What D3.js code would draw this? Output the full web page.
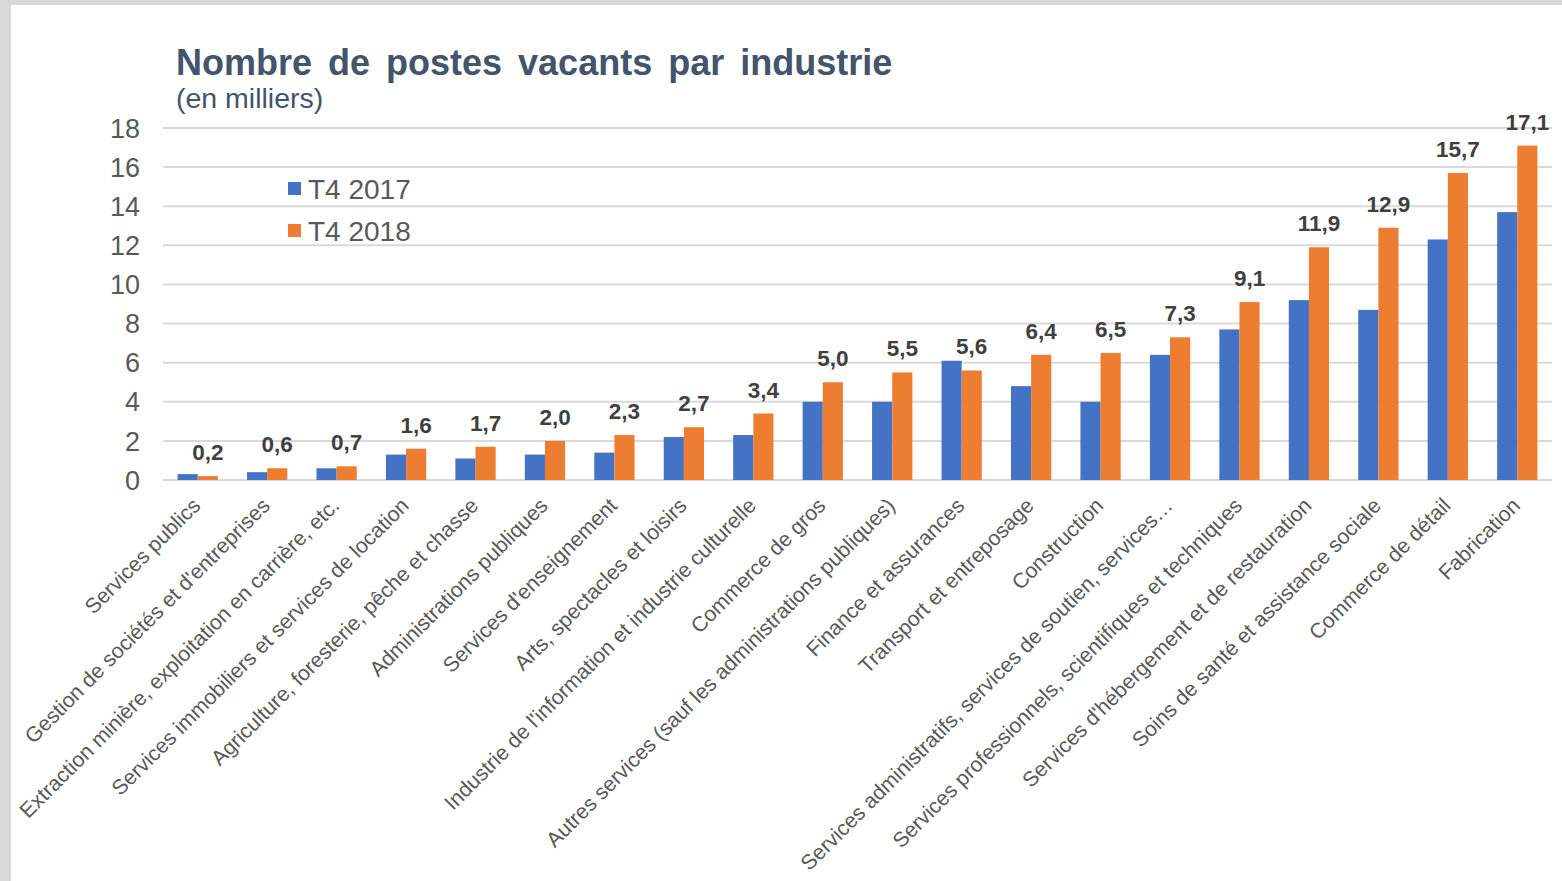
<!DOCTYPE html>
<html>
<head>
<meta charset="utf-8">
<script src="https://cdn.jsdelivr.net/npm/d3@7"></script>
<style>
  body { margin: 0; background: #d9d9d9; }
  svg { display: block; }
</style>
</head>
<body>
<script>
// categories, in chart order
var industries = [
  "Services publics",
  "Gestion de sociétés et d'entreprises",
  "Extraction minière, exploitation en carrière, etc.",
  "Services immobiliers et services de location",
  "Agriculture, foresterie, pêche et chasse",
  "Administrations publiques",
  "Services d'enseignement",
  "Arts, spectacles et loisirs",
  "Industrie de l'information et industrie culturelle",
  "Commerce de gros",
  "Autres services (sauf les administrations publiques)",
  "Finance et assurances",
  "Transport et entreposage",
  "Construction",
  "Services administratifs, services de soutien, services…",
  "Services professionnels, scientifiques et techniques",
  "Services d'hébergement et de restauration",
  "Soins de santé et assistance sociale",
  "Commerce de détail",
  "Fabrication"
];
var t4_2017 = [0.3, 0.4, 0.6, 1.3, 1.1, 1.3, 1.4, 2.2, 2.3, 4.0, 4.0, 6.1, 4.8, 4.0, 6.4, 7.7, 9.2, 8.7, 12.3, 13.7];
var t4_2018 = [0.2, 0.6, 0.7, 1.6, 1.7, 2.0, 2.3, 2.7, 3.4, 5.0, 5.5, 5.6, 6.4, 6.5, 7.3, 9.1, 11.9, 12.9, 15.7, 17.1];
var seriesNames = ["T4 2017", "T4 2018"];
var yTicks = [0, 2, 4, 6, 8, 10, 12, 14, 16, 18];

var width = 1562, height = 881;
var colors = ["#4472C4", "#ED7D31"];

var svg = d3.select("body").append("svg")
    .attr("width", width)
    .attr("height", height);

svg.append("rect")
    .attr("x", 11).attr("y", 5)
    .attr("width", width - 11).attr("height", height - 5)
    .attr("fill", "#fff");

var x = d3.scaleBand()
    .domain(d3.range(industries.length))
    .range([163, 1552])
    .paddingInner(0.42)
    .paddingOuter(0.21);

var xs = d3.scaleBand()
    .domain([0, 1])
    .range([0, x.bandwidth()]);

var y = d3.scaleLinear()
    .domain([0, 18])
    .range([480, 128]);

// gridlines
svg.append("g")
  .selectAll("line")
  .data(yTicks)
  .enter().append("line")
    .attr("x1", 163).attr("x2", 1552)
    .attr("y1", function(d) { return y(d); })
    .attr("y2", function(d) { return y(d); })
    .attr("stroke", "#d9d9d9")
    .attr("stroke-width", 2);

// y tick labels
svg.append("g")
  .selectAll("text")
  .data(yTicks)
  .enter().append("text")
    .attr("x", 140)
    .attr("y", function(d) { return y(d); })
    .attr("dy", "0.36em")
    .attr("text-anchor", "end")
    .style("font-family", "Liberation Sans, Arial, sans-serif")
    .style("font-size", "27px")
    .attr("fill", "#595959")
    .text(function(d) { return d; });

// bars
var rows = industries.map(function(name, i) {
  return { i: i, vals: [t4_2017[i], t4_2018[i]] };
});

var groups = svg.append("g")
  .selectAll("g")
  .data(rows)
  .enter().append("g")
    .attr("transform", function(d) { return "translate(" + x(d.i) + ",0)"; });

groups.selectAll("rect")
  .data(function(d) { return d.vals; })
  .enter().append("rect")
    .attr("x", function(d, k) { return xs(k); })
    .attr("y", function(d) { return y(d); })
    .attr("width", xs.bandwidth())
    .attr("height", function(d) { return y(0) - y(d); })
    .attr("fill", function(d, k) { return colors[k]; });

// value labels over the 2018 bar
groups.append("text")
    .attr("x", xs(1) + xs.bandwidth() / 2)
    .attr("y", function(d) { return y(d.vals[1]) - 16; })
    .attr("text-anchor", "middle")
    .style("font-family", "Liberation Sans, Arial, sans-serif")
    .style("font-size", "22.5px")
    .style("font-weight", "bold")
    .attr("fill", "#404040")
    .text(function(d) { return d.vals[1].toFixed(1).replace(".", ","); });

// category labels
svg.append("g")
  .selectAll("text")
  .data(industries)
  .enter().append("text")
    .attr("transform", function(d, i) {
      return "translate(" + (x(i) + x.bandwidth() / 2 + 4) + ",507) rotate(-45)";
    })
    .attr("text-anchor", "end")
    .style("font-family", "Liberation Sans, Arial, sans-serif")
    .style("font-size", "21.2px")
    .attr("fill", "#595959")
    .text(function(d) { return d; });

// title
svg.append("text")
    .attr("x", 176).attr("y", 75)
    .style("font-family", "Liberation Sans, Arial, sans-serif")
    .style("font-size", "36px")
    .style("font-weight", "bold")
    .style("word-spacing", "6px")
    .attr("fill", "#44546A")
    .text("Nombre de postes vacants par industrie");

svg.append("text")
    .attr("x", 176).attr("y", 108)
    .style("font-family", "Liberation Sans, Arial, sans-serif")
    .style("font-size", "28.5px")
    .attr("fill", "#44546A")
    .text("(en milliers)");

// legend
var legend = svg.append("g")
  .selectAll("g")
  .data(seriesNames)
  .enter().append("g")
    .attr("transform", function(d, i) { return "translate(288," + (189 + i * 42) + ")"; });

legend.append("rect")
    .attr("x", 0).attr("y", -7)
    .attr("width", 13).attr("height", 13)
    .attr("fill", function(d, i) { return colors[i]; });

legend.append("text")
    .attr("x", 20)
    .attr("dy", "0.36em")
    .style("font-family", "Liberation Sans, Arial, sans-serif")
    .style("font-size", "28px")
    .attr("fill", "#595959")
    .text(function(d) { return d; });
</script>
</body>
</html>
